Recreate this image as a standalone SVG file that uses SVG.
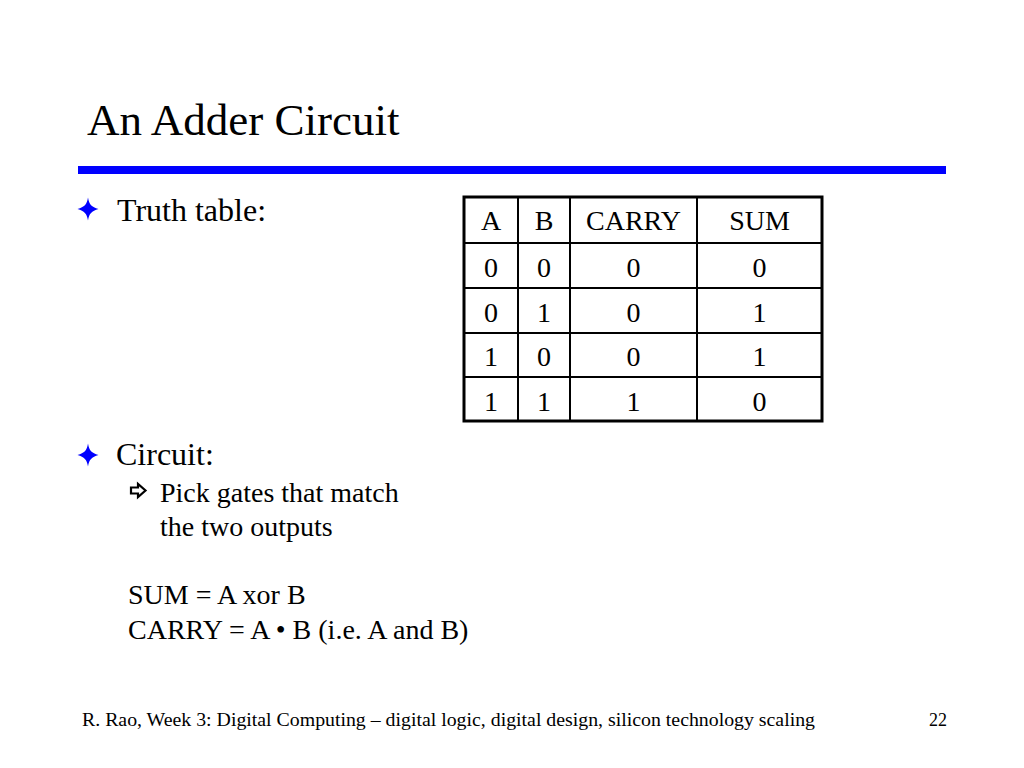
<svg xmlns="http://www.w3.org/2000/svg" width="1024" height="768" viewBox="0 0 1024 768">
<style>
text{font-family:"Liberation Serif","Times New Roman",serif;fill:#000}
.t{font-size:28px}
.c{text-anchor:middle}
.cell{stroke:#000;stroke-width:2;fill:none}
.star{fill:#0000ff}
</style>
<defs>
<path id="star" d="M0,-11.5 C1.2,-4.5 3.5,-2 10.5,0 C3.5,2 1.2,4.5 0,11.5 C-1.2,4.5 -3.5,2 -10.5,0 C-3.5,-2 -1.2,-4.5 0,-11.5 Z"/>
</defs>
<rect width="1024" height="768" fill="#fff"/>
<g id="title">
<text x="87" y="135" style="font-size:45px">An Adder Circuit</text>
<rect x="78" y="166" width="868" height="8" fill="#0000ff"/>
</g>
<g id="bullet1">
<use href="#star" x="88" y="209" class="star"/>
<text x="117" y="221" style="font-size:32px">Truth table:</text>
</g>
<g id="table">
<rect x="464" y="197" width="358" height="224" fill="#fff" stroke="#000" stroke-width="3"/>
<line class="cell" x1="518" y1="197" x2="518" y2="421"/>
<line class="cell" x1="570" y1="197" x2="570" y2="421"/>
<line class="cell" x1="697" y1="197" x2="697" y2="421"/>
<line class="cell" x1="464" y1="243" x2="822" y2="243"/>
<line class="cell" x1="464" y1="288" x2="822" y2="288"/>
<line class="cell" x1="464" y1="333" x2="822" y2="333"/>
<line class="cell" x1="464" y1="377" x2="822" y2="377"/>
<g class="t c">
<text x="491" y="230">A</text><text x="544" y="230">B</text><text x="633.5" y="230">CARRY</text><text x="759.5" y="230">SUM</text>
<text x="491" y="277">0</text><text x="544" y="277">0</text><text x="633.5" y="277">0</text><text x="759.5" y="277">0</text>
<text x="491" y="322">0</text><text x="544" y="322">1</text><text x="633.5" y="322">0</text><text x="759.5" y="322">1</text>
<text x="491" y="366">1</text><text x="544" y="366">0</text><text x="633.5" y="366">0</text><text x="759.5" y="366">1</text>
<text x="491" y="411">1</text><text x="544" y="411">1</text><text x="633.5" y="411">1</text><text x="759.5" y="411">0</text>
</g>
</g>
<g id="bullet2">
<use href="#star" x="88" y="455" class="star"/>
<text x="116" y="465" style="font-size:32px">Circuit:</text>
<path d="M131,487.5 L138,487.5 L138,484 L145.5,490.5 L138,497 L138,493.5 L131,493.5 Z" fill="#fff" stroke="#000" stroke-width="2.2" stroke-linejoin="miter"/>
<text x="160" y="502" class="t">Pick gates that match</text>
<text x="160" y="536" class="t">the two outputs</text>
<text x="128" y="604" class="t">SUM = A xor B</text>
<text x="128" y="639" class="t">CARRY = A • B (i.e. A and B)</text>
</g>
<g id="footer">
<text x="82" y="726" style="font-size:18px" textLength="733" lengthAdjust="spacingAndGlyphs">R. Rao, Week 3: Digital Computing – digital logic, digital design, silicon technology scaling</text>
<text x="947" y="726" style="font-size:18px;text-anchor:end">22</text>
</g>
</svg>
